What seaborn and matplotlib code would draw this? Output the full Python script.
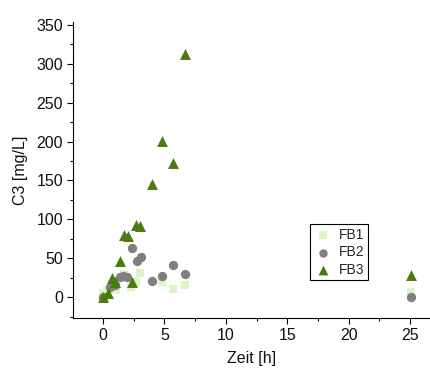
import pandas as pd
import numpy as np
import matplotlib
matplotlib.use('Agg')
import matplotlib.pyplot as plt
import seaborn as sns
from matplotlib.ticker import MultipleLocator

# values
fb1_t = [0.0, 0.3, 0.6, 1.1, 1.7, 2.3, 2.7, 3.05, 4.8, 5.7, 6.7, 25.1]
fb1_c = [5, 9, 11, 9, 30, 12.5, 20, 31, 19, 10, 15, 6]

fb2_t = [0.0, 0.6, 1.0, 1.4, 1.65, 1.95, 2.4, 2.8, 3.1, 4.0, 4.8, 5.7, 6.7, 25.1]
fb2_c = [0, 13, 15, 26, 27, 26, 63, 46, 51, 21, 27, 41, 30, 0]

fb3_t = [0.0, 0.4, 0.7, 1.0, 1.4, 1.7, 2.05, 2.4, 2.7, 3.05, 4.0, 4.8, 5.7, 6.7, 25.1]
fb3_c = [0.5, 5, 25, 20, 47, 80, 78, 20, 93, 91, 145, 201, 172, 313, 28]

df = pd.concat([
    pd.DataFrame({'t': fb1_t, 'c': fb1_c, 'run': 'FB1'}),
    pd.DataFrame({'t': fb2_t, 'c': fb2_c, 'run': 'FB2'}),
    pd.DataFrame({'t': fb3_t, 'c': fb3_c, 'run': 'FB3'}),
])

sns.set_style("ticks")
plt.rcParams['font.family'] = ['Liberation Sans', 'DejaVu Sans']
fs = 11.5

fig = plt.figure(figsize=(4.31, 3.72), dpi=100)
ax = fig.add_axes([0.169, 0.145, 0.831, 0.796])

sizes = {'FB1': 35, 'FB2': 45, 'FB3': 62}
colors = {'FB1': '#dcf5c4', 'FB2': '#7f7f7f', 'FB3': '#4b7a0f'}
markers = {'FB1': 's', 'FB2': 'o', 'FB3': '^'}
for run in ['FB1', 'FB2', 'FB3']:
    sns.scatterplot(
        data=df[df['run'] == run], x='t', y='c',
        color=colors[run], marker=markers[run],
        s=sizes[run], linewidth=0, ax=ax, label=run,
    )

ax.set_xlim(-2.45, 26.7)
ax.set_ylim(-27, 354)
ax.xaxis.set_major_locator(MultipleLocator(5))
ax.xaxis.set_minor_locator(MultipleLocator(2.5))
ax.yaxis.set_major_locator(MultipleLocator(50))
ax.yaxis.set_minor_locator(MultipleLocator(25))
ax.tick_params(which='major', length=4, width=0.8, color='black', labelsize=fs,
               labelcolor='#111111', pad=3)
ax.tick_params(which='minor', length=2.5, width=0.8, color='black')
sns.despine(ax=ax)
for sp in ax.spines.values():
    sp.set_color('black')
    sp.set_linewidth(0.8)

ax.set_xlabel('Zeit [h]', fontsize=fs, color='#111111', labelpad=6)
ax.set_ylabel('C3 [mg/L]', fontsize=fs, color='#111111', labelpad=6)

leg = ax.legend(loc='lower left', bbox_to_anchor=(0.662, 0.128), borderaxespad=0,
                fancybox=False, edgecolor='black', framealpha=1, fontsize=fs - 1.5,
                handletextpad=0.4, borderpad=0.25, labelspacing=0.25,
                handlelength=1.4, markerscale=0.9)
leg.get_frame().set_linewidth(0.8)

fig.savefig('out.png', dpi=100)
